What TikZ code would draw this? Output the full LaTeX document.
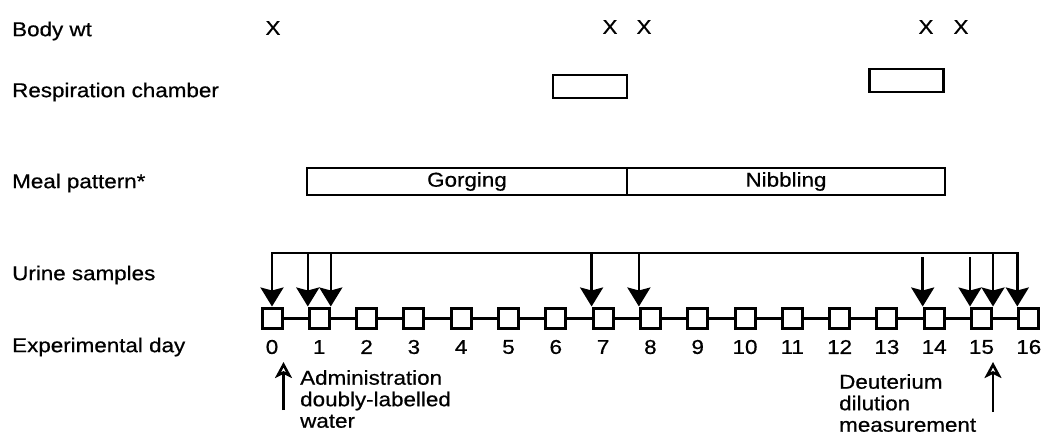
\documentclass[tikz,border=0pt]{standalone}
\usepackage{fontspec}
\setmainfont{Liberation Sans}[FakeStretch=1.12, FakeBold=0.6]
\usetikzlibrary{arrows.meta}

\tikzset{
    urinetip/.tip={Stealth[length=19pt, width=23pt, inset=3pt]},
    dosetip/.tip={Stealth[length=16pt, width=17pt, inset=4pt, open]},
}

\begin{document}
\begin{tikzpicture}[x=1pt, y=-1pt,
            rowlabel/.style={anchor=west, inner sep=0pt, font=\fontsize{20}{22}\selectfont},
            weigh/.style={inner sep=0pt, font=\fontsize{20}{22}\selectfont},
            chamber/.style={draw=black, line width=2.6pt, minimum width=74pt, minimum height=23pt, inner sep=0pt},
            meal/.style={draw=black, line width=2.4pt, minimum height=27pt, inner sep=0pt, outer sep=0pt, font=\fontsize{20}{22}\selectfont},
            daybox/.style={draw=black, fill=white, line width=3pt, minimum size=20pt, inner sep=0pt},
            daynum/.style={inner sep=0pt, font=\fontsize{20}{22}\selectfont},
            axis/.style={line width=3pt},
            sample/.style={line width=2.6pt, -urinetip},
            dose/.style={line width=2.6pt, -dosetip},
            note/.style={anchor=north west, align=left, inner sep=0pt, font=\fontsize{20}{21.5}\selectfont},
        ]
            \useasboundingbox (0,0) rectangle (1042,436);
            %% row labels
            \node[rowlabel] at (12,31) (bodywt) {Body wt};
            \node[rowlabel] at (12,92) (respiration) {Respiration chamber};
            \node[rowlabel] at (12,183) (mealpattern) {Meal pattern*};
            \node[rowlabel] at (12,275) (urine) {Urine samples};
            \node[rowlabel] at (12,347) (expday) {Experimental day};
            %% body weight
            \node[weigh] at (273,28) (wt0) {X};
            \node[weigh] at (610,27) (wt7) {X};
            \node[weigh] at (644,27) (wt8) {X};
            \node[weigh] at (926,27) (wt14) {X};
            \node[weigh] at (961,27) (wt15) {X};
            %% respiration chamber
            \node[chamber] at (590,86.5) (resp1) {};
            \node[chamber] at (906.5,80.5) (resp2) {};
            %% meal pattern
            \node[meal, minimum width=320pt] at (467,181.5) (gorging) {Gorging};
            \node[meal, minimum width=318pt, anchor=west] at (gorging.east) (nibbling) {Nibbling};
            %% experimental days
            \foreach \i in {0,...,16} {
                \node[daybox] at ({272+47.3*\i},318) (d\i) {};
                \node[daynum] at ({272+47.3*\i},347) (n\i) {\i};
            }
            \foreach \i [evaluate=\i as \j using int(\i+1)] in {0,...,15}
                \draw[axis] (d\i) -- (d\j);
            %% urine samples
            \coordinate (rail) at (0,253);
            \coordinate (gap) at (0,257);
            \draw[sample, urinetip-urinetip] (d0.north) |- (d16.north west |- rail) -- (d16.north west);
            \draw[sample] (d1.north west |- rail) -- (d1.north west);
            \draw[sample] (d1.north east |- rail) -- (d1.north east);
            \draw[sample] (d7.north west |- rail) -- (d7.north west);
            \draw[sample] (d8.north west |- rail) -- (d8.north west);
            \draw[sample] (d14.north west |- gap) -- (d14.north west);
            \draw[sample] (d15.north west |- gap) -- (d15.north west);
            \draw[sample] (d15.north east |- rail) -- (d15.north east);
            %% doses
            \coordinate (admstart) at (d0.east |- 0,410);
            \coordinate (admtip) at (d0.east |- 0,362);
            \coordinate (deutstart) at (d15.east |- 0,412);
            \coordinate (deuttip) at (d15.east |- 0,362);
            \draw[dose] (admstart) -- (admtip);
            \draw[dose] (deutstart) -- (deuttip);
            \node[note] at (300,370) (admin) {Administration\\doubly-labelled\\water};
            \node[note] at (839,374) (deut) {Deuterium\\dilution\\measurement};
        \end{tikzpicture}
\end{document}
